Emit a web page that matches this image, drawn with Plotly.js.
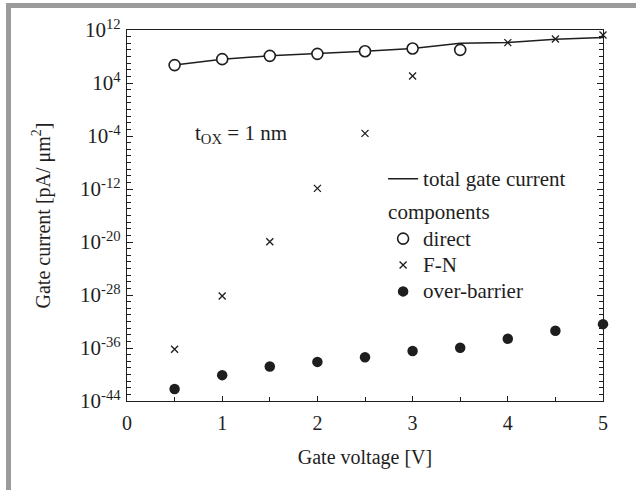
<!DOCTYPE html>
<html>
<head>
<meta charset="utf-8">
<script src="https://cdn.plot.ly/plotly-3.0.1.min.js"></script>
<style>
  html, body { margin: 0; padding: 0; background: #fff; }
  #wrap { position: relative; width: 636px; height: 490px; overflow: hidden; }
  #frame { position: absolute; left: 6px; top: 3px; width: 640px; height: 500px;
           border-top: 5px solid #9b9b9b; border-left: 5px solid #9b9b9b; }
  #chart { position: absolute; left: 0; top: 0; width: 636px; height: 490px; }
</style>
</head>
<body>
<div id="wrap"><div id="frame"></div><div id="chart"></div></div>
<script>
// Gate voltage [V]
const voltage = [0.5, 1.0, 1.5, 2.0, 2.5, 3.0, 3.5, 4.0, 4.5, 5.0];
// log10 of currents [pA/um^2]
const totalLog = [6.7, 7.6, 8.1, 8.4, 8.8, 9.2, 10.0, 10.1, 10.6, 10.85];
const directV = [0.5, 1.0, 1.5, 2.0, 2.5, 3.0, 3.5];
const directLog = [6.7, 7.6, 8.1, 8.4, 8.8, 9.2, 9.0];
const fnV = [0.5, 1.0, 1.5, 2.0, 2.5, 3.0, 4.0, 4.5, 5.0];
const fnLog = [-36.2, -28.15, -19.95, -11.9, -3.6, 5.05, 10.1, 10.65, 11.25];
const overLog = [-42.2, -40.1, -38.8, -38.1, -37.4, -36.45, -35.95, -34.6, -33.4, -32.4];
const yTickExp = [12, 4, -4, -12, -20, -28, -36, -44];
const xTicks = [0, 1, 2, 3, 4, 5];
const seriesNames = ['total gate current', 'direct', 'F-N', 'over-barrier'];
const groupTitle = 'components';

const pw = v => Math.pow(10, v);
const serif = 'Liberation Serif, Times New Roman, serif';
const ink = '#1e1e1e';
const fs = 20;
const lfs = 21;
const big = s => '<span style="font-size:' + lfs + 'px">' + s + '</span>';

const traces = [
  { x: voltage, y: totalLog.map(pw), mode: 'lines', name: big(seriesNames[0]),
    line: { color: ink, width: 1.5 }, legendgroup: 'tot', cliponaxis: false },
  { x: directV, y: directLog.map(pw), mode: 'markers', name: big(seriesNames[1]),
    marker: { symbol: 'circle', size: 11, color: '#fff', line: { color: ink, width: 1.6 } },
    legendgroup: 'comp', legendgrouptitle: { text: big(groupTitle), font: { family: serif, size: 18, color: ink } },
    cliponaxis: false },
  { x: fnV, y: fnLog.map(pw), mode: 'markers', name: big(seriesNames[2]),
    marker: { symbol: 'x-thin-open', size: 7, color: ink, line: { color: ink, width: 1.3 } },
    legendgroup: 'comp', cliponaxis: false },
  { x: voltage, y: overLog.map(pw), mode: 'markers', name: big(seriesNames[3]),
    marker: { symbol: 'circle', size: 10.5, color: ink, line: { width: 0 } },
    legendgroup: 'comp', cliponaxis: false }
];

const minorDecades = [];
for (let e = -44; e <= 12; e++) minorDecades.push(pw(e));

const layout = {
  width: 636, height: 490,
  margin: { l: 127, r: 33, t: 30, b: 89 },
  paper_bgcolor: 'rgba(0,0,0,0)', plot_bgcolor: '#fff',
  font: { family: serif, size: fs, color: ink },
  showlegend: true,
  legend: { x: 0.538, y: 0.648, xanchor: 'left', yanchor: 'top', bgcolor: 'rgba(0,0,0,0)',
            traceorder: 'grouped', tracegroupgap: 7, font: { family: serif, size: 18, color: ink } },
  xaxis: {
    range: [0, 5], tickmode: 'array', tickvals: xTicks, ticktext: xTicks.map(String),
    ticks: 'inside', ticklen: 5, tickcolor: ink, tickwidth: 1,
    minor: { tickmode: 'linear', tick0: 0, dtick: 0.5, ticks: 'inside', ticklen: 4, tickcolor: ink },
    showline: true, linecolor: ink, linewidth: 1.2, mirror: true, showgrid: false, zeroline: false,
    tickfont: { family: serif, size: fs, color: ink }, ticklabelstandoff: 4,
    title: { text: 'Gate voltage [V]', font: { family: serif, size: fs, color: ink }, standoff: 16 }
  },
  yaxis: {
    type: 'log', range: [-44, 12], tickmode: 'array',
    tickvals: yTickExp.map(pw), ticktext: yTickExp.map(e => '10<sup>' + e + '</sup>'),
    ticks: 'inside', ticklen: 6, tickcolor: ink, tickwidth: 1,
    minor: { tickmode: 'array', tickvals: minorDecades, ticks: 'inside', ticklen: 4, tickcolor: ink },
    showline: true, linecolor: ink, linewidth: 1.2, mirror: 'ticks', showgrid: false, zeroline: false,
    tickfont: { family: serif, size: lfs, color: ink }, ticklabelstandoff: 1,
    title: { text: 'Gate current [pA/ μm<sup>2</sup>]', font: { family: serif, size: fs, color: ink }, standoff: 24 }
  },
  annotations: [
    { xref: 'paper', yref: 'paper', x: 0.138, y: 0.72, xanchor: 'left', yanchor: 'middle',
      text: 't<sub>OX</sub> = 1 nm', showarrow: false, font: { family: serif, size: fs + 1, color: ink } }
  ]
};

Plotly.newPlot('chart', traces, layout, { displayModeBar: false, staticPlot: true });
</script>
</body>
</html>
